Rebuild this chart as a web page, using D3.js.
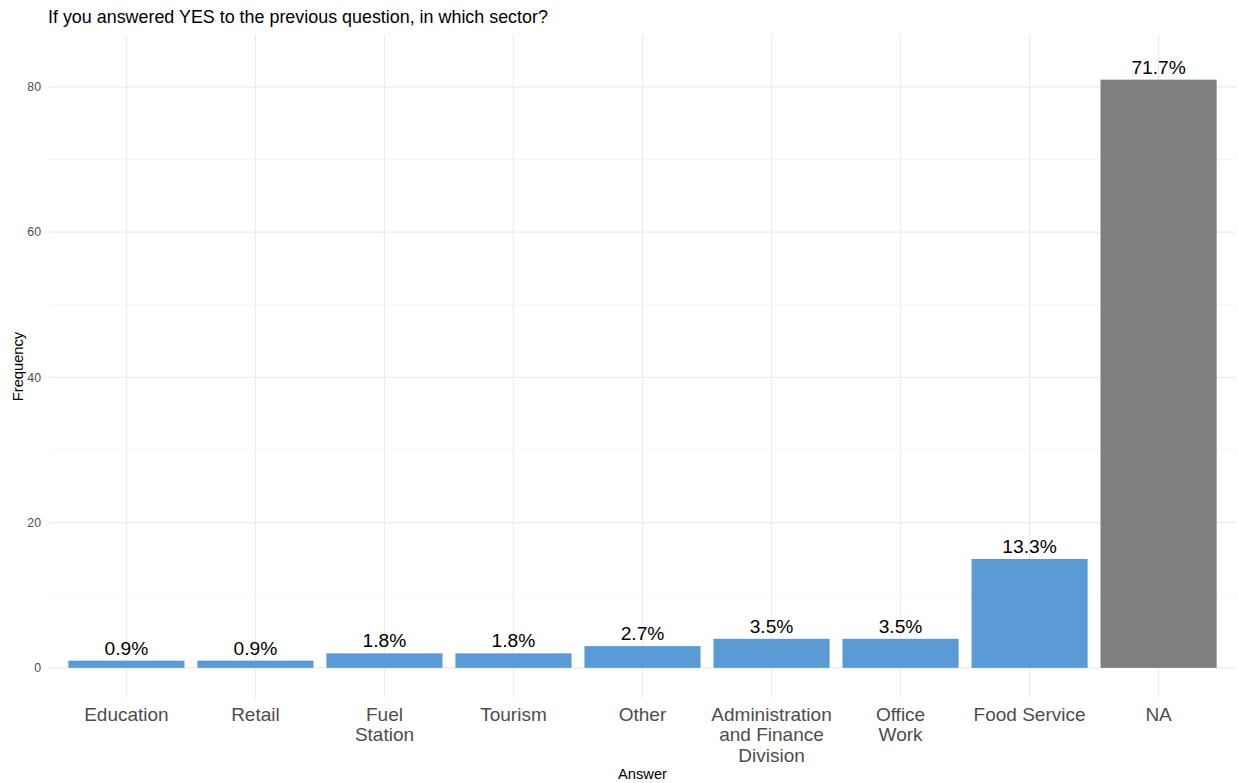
<!DOCTYPE html>
<html><head><meta charset="utf-8">
<script src="https://cdn.jsdelivr.net/npm/d3@7"></script>
<style>body{margin:0;background:#fff}svg{display:block}text{font-family:"Liberation Sans",Arial,sans-serif}</style>
</head><body>
<svg id="c" width="1238" height="783"></svg>
<script>
const categories = ["Education","Retail","Fuel Station","Tourism","Other","Administration and Finance Division","Office Work","Food Service","NA"];
const labelLines = [["Education"],["Retail"],["Fuel","Station"],["Tourism"],["Other"],["Administration","and Finance","Division"],["Office","Work"],["Food Service"],["NA"]];
const counts = [1,1,2,2,3,4,4,15,81];
const pctLabels = ["0.9%","0.9%","1.8%","1.8%","2.7%","3.5%","3.5%","13.3%","71.7%"];
const yTicks = [0,20,40,60,80];
const yMinor = [10,30,50,70];

const svg = d3.select("#c");
const L = 49, R = 1236, T = 35, B = 698;
const x = d3.scaleBand().domain(categories).range([L, R]).paddingInner(0.1).paddingOuter(0.15);
const y = d3.scaleLinear().domain([-4.15, 87.15]).range([B, T]);

const g = svg.append("g");
g.selectAll(".mn").data(yMinor).join("line")
  .attr("x1", L).attr("x2", R).attr("y1", d => y(d)).attr("y2", d => y(d))
  .attr("stroke", "#f2f2f2").attr("stroke-width", 0.8);
g.selectAll(".mj").data(yTicks).join("line")
  .attr("x1", L).attr("x2", R).attr("y1", d => y(d)).attr("y2", d => y(d))
  .attr("stroke", "#ebebeb").attr("stroke-width", 1.1);
g.selectAll(".vx").data(categories).join("line")
  .attr("x1", d => x(d) + x.bandwidth()/2).attr("x2", d => x(d) + x.bandwidth()/2)
  .attr("y1", T).attr("y2", B)
  .attr("stroke", "#ebebeb").attr("stroke-width", 1.1);

g.selectAll(".bar").data(categories).join("rect")
  .attr("x", d => x(d)).attr("width", x.bandwidth())
  .attr("y", (d,i) => y(counts[i])).attr("height", (d,i) => y(0) - y(counts[i]))
  .attr("fill", d => d === "NA" ? "#7f7f7f" : "#5b9bd5");

g.selectAll(".vl").data(categories).join("text")
  .attr("x", d => x(d) + x.bandwidth()/2)
  .attr("y", (d,i) => y(counts[i]) - 6)
  .attr("text-anchor", "middle").attr("font-size", 19.2).attr("fill", "#000")
  .text((d,i) => pctLabels[i]);

g.selectAll(".yt").data(yTicks).join("text")
  .attr("x", 41).attr("y", d => y(d)).attr("dy", "0.35em")
  .attr("text-anchor", "end").attr("font-size", 12.3).attr("fill", "#4d4d4d")
  .text(d => d);

const xl = g.selectAll(".xt").data(categories).join("text")
  .attr("x", d => x(d) + x.bandwidth()/2).attr("y", 721)
  .attr("text-anchor", "middle").attr("font-size", 19).attr("fill", "#4d4d4d");
xl.each(function(d,i){
  const t = d3.select(this);
  labelLines[i].forEach((ln, j) => {
    t.append("tspan").attr("x", x(d) + x.bandwidth()/2).attr("dy", j === 0 ? 0 : 20.3).text(ln);
  });
});

svg.append("text").attr("x", 48).attr("y", 23).attr("font-size", 17.9).attr("fill", "#000")
  .text("If you answered YES to the previous question, in which sector?");
svg.append("text").attr("x", (L+R)/2).attr("y", 779).attr("text-anchor", "middle")
  .attr("font-size", 14.7).attr("fill", "#000").text("Answer");
svg.append("text").attr("transform", `translate(23,${(T+B)/2}) rotate(-90)`)
  .attr("text-anchor", "middle").attr("font-size", 14.7).attr("fill", "#000").text("Frequency");
</script>
</body></html>
